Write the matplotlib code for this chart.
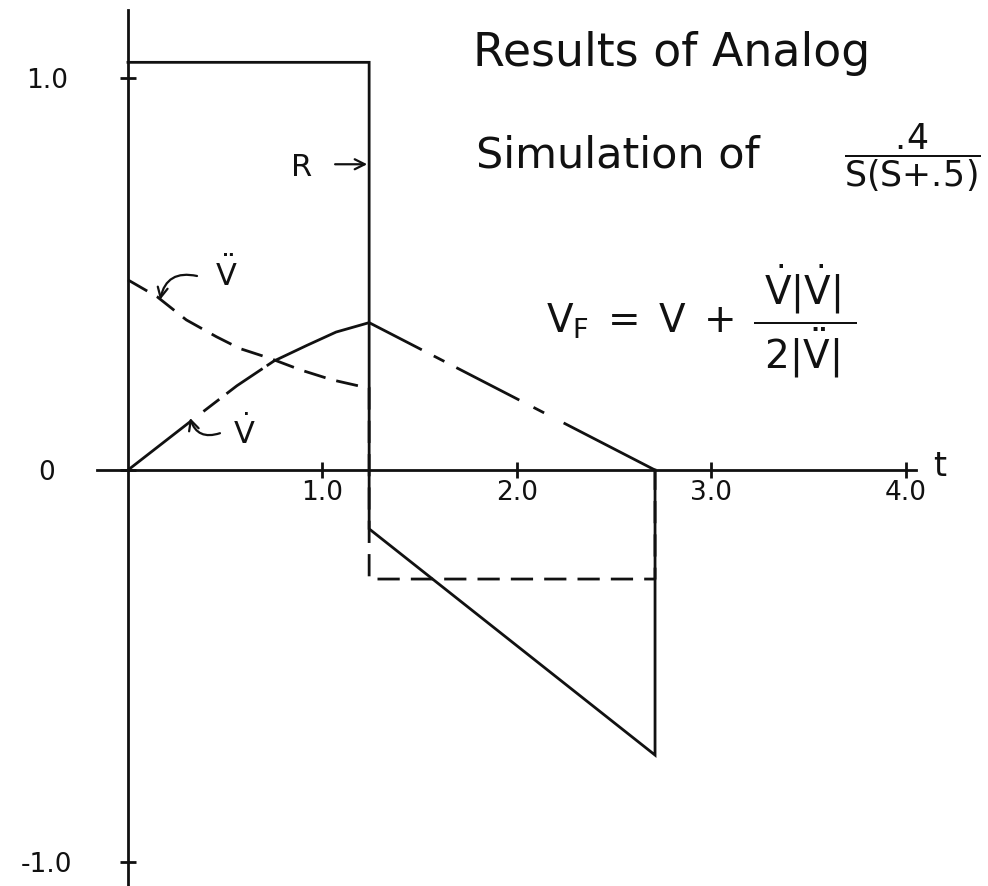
import matplotlib
matplotlib.use("Agg")
import matplotlib.pyplot as plt

# ---- data -------------------------------------------------------------
# relay output R and switching line V_F (solid)
relay_t = [0.0, 1.24, 1.24, 2.71, 2.71]
relay_v = [1.04, 1.04, -0.15, -0.727, 0.0]

# first derivative V-dot (long dash / short dash)
vdot_t = [0.0, 0.35, 0.56, 0.75, 0.92, 1.07, 1.24, 2.71]
vdot_v = [0.0, 0.135, 0.215, 0.278, 0.318, 0.352, 0.376, 0.0]

# second derivative V-double-dot (dashed)
vddot_t = [0.0, 0.15, 0.30, 0.455, 0.575, 0.73, 0.89, 1.05, 1.21, 1.24, 1.24, 2.71, 2.71]
vddot_v = [0.485, 0.442, 0.383, 0.340, 0.310, 0.285, 0.255, 0.230, 0.212, 0.21, -0.278, -0.278, 0.0]

x_ticks = [1.0, 2.0, 3.0, 4.0]
x_tick_labels = ["1.0", "2.0", "3.0", "4.0"]
y_ticks = [-1.0, 0.0, 1.0]
y_tick_labels = ["-1.0", "0", "1.0"]

# ---- style ------------------------------------------------------------
plt.rcParams["font.family"] = ["DejaVu Sans"]
plt.rcParams["mathtext.fontset"] = "dejavusans"
plt.rcParams["mathtext.default"] = "regular"
plt.rcParams["lines.scale_dashes"] = False

INK = "#111111"
LW = 2.0

fig = plt.figure(figsize=(9.88, 8.86), dpi=100)
ax = fig.add_axes([0, 0, 1, 1])
ax.set_xlim(-0.658, 4.422)
ax.set_ylim(-1.061, 1.199)

for side in ("top", "right"):
    ax.spines[side].set_visible(False)
ax.spines["left"].set_position(("data", 0))
ax.spines["bottom"].set_position(("data", 0))
ax.spines["left"].set_bounds(-1.061, 1.173)
ax.spines["bottom"].set_bounds(-0.159, 4.05)
for side in ("left", "bottom"):
    ax.spines[side].set_linewidth(LW)
    ax.spines[side].set_color(INK)

ax.set_xticks(x_ticks, x_tick_labels)
ax.set_yticks(y_ticks, y_tick_labels)
ax.tick_params(axis="both", direction="inout", length=11, width=LW,
               colors=INK, labelsize=19)
ax.tick_params(axis="x", pad=2)
ax.tick_params(axis="y", pad=53)
for lab in ax.get_yticklabels():
    lab.set_horizontalalignment("center")

# ---- curves -----------------------------------------------------------
ax.plot(relay_t, relay_v, color=INK, lw=LW, solid_joinstyle="miter")

vdot_dash = (0, (58, 10.8, 14.4, 6.5, 31.7, 3.6, 123, 9.7, 8.6, 9.7,
                 51, 11.5, 8.6, 15.8, 200, 10))
ax.plot(vdot_t, vdot_v, color=INK, lw=LW, linestyle=vdot_dash)

ax.plot(vddot_t, vddot_v, color=INK, lw=LW, linestyle=(0, (16, 8)))

# ---- annotations ------------------------------------------------------
arrow_kw = dict(arrowstyle="->", color=INK, lw=1.6, mutation_scale=18,
                shrinkA=0, shrinkB=0)
ax.text(0.504, 0.50, r"$\ddot{V}$", fontsize=22, ha="center", va="center", color=INK)
ax.annotate("", xy=(0.165, 0.434), xytext=(0.355, 0.495),
            arrowprops=dict(connectionstyle="arc3,rad=0.5", **arrow_kw))

ax.text(0.60, 0.097, r"$\dot{V}$", fontsize=22, ha="center", va="center", color=INK)
ax.annotate("", xy=(0.319, 0.133), xytext=(0.473, 0.094),
            arrowprops=dict(connectionstyle="arc3,rad=-0.5", **arrow_kw))

ax.text(0.895, 0.773, "R", fontsize=22, ha="center", va="center", color=INK)
ax.annotate("", xy=(1.23, 0.78), xytext=(1.065, 0.78),
            arrowprops=dict(connectionstyle="arc3,rad=0", **arrow_kw))

ax.text(4.175, 0.01, "t", fontsize=24, ha="center", va="center", color=INK)

# ---- title block ------------------------------------------------------
ax.text(0.479, 0.926, "Results of Analog", transform=ax.transAxes,
        fontsize=33, ha="left", va="baseline", color=INK)
ax.text(0.482, 0.811, "Simulation of", transform=ax.transAxes,
        fontsize=31, ha="left", va="baseline", color=INK)
ax.text(0.923, 0.822, r"$\dfrac{.\!4}{S(S{+}.\!5)}$", transform=ax.transAxes,
        fontsize=25, ha="center", va="center", color=INK)
ax.text(0.553, 0.638,
        r"$V_F\;=\;V\;+\;\dfrac{\;\dot{V}|\dot{V}|\;}{2|\ddot{V}|}$",
        transform=ax.transAxes, fontsize=28, ha="left", va="center", color=INK)

fig.savefig("out.png", dpi=100, facecolor="white")
